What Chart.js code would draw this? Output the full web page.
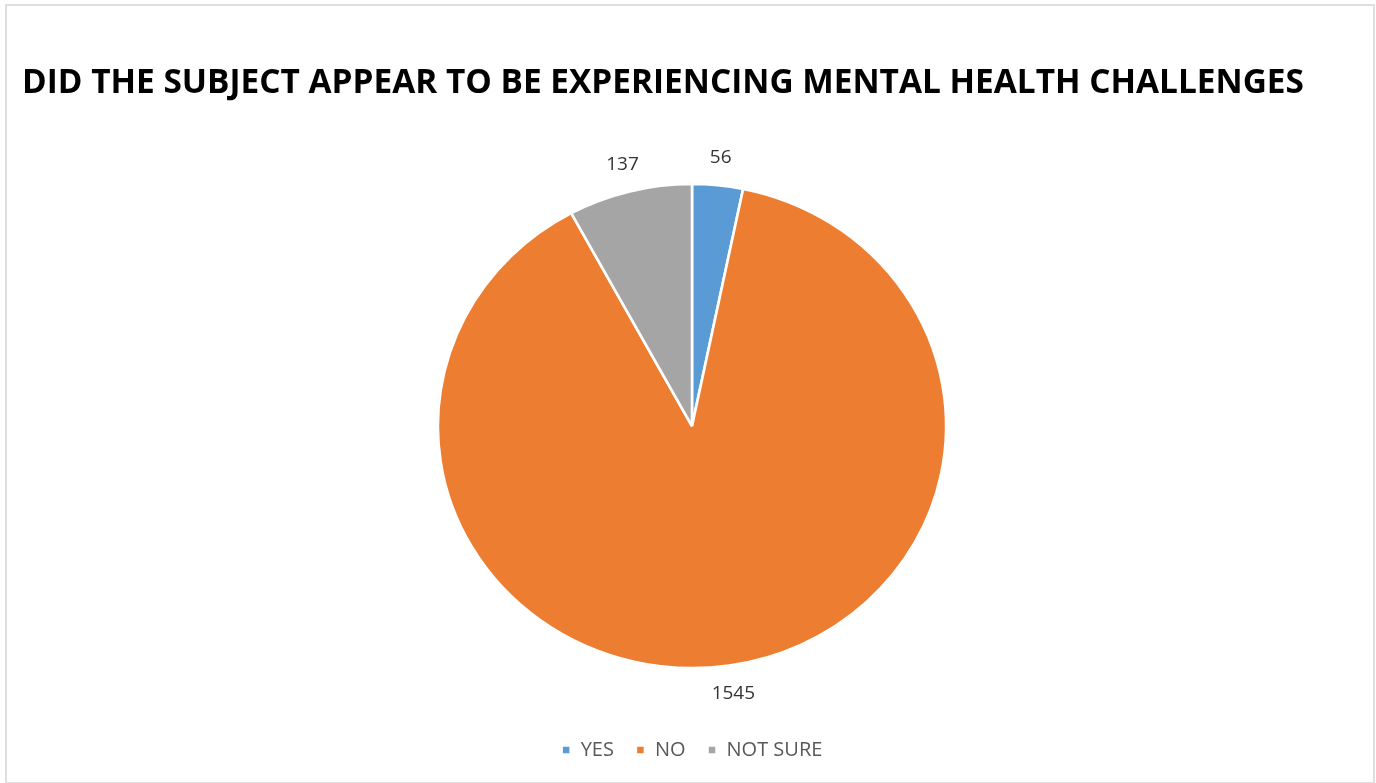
<!DOCTYPE html>
<html>
<head>
<meta charset="utf-8">
<script src="https://cdn.jsdelivr.net/npm/chart.js@4.4.1/dist/chart.umd.min.js"></script>
<style>
  html, body { margin: 0; padding: 0; background: #ffffff; }
  #wrap { position: relative; width: 1376px; height: 783px; overflow: hidden; }
  #frame { position: absolute; left: 5px; top: 4px; width: 1366px; height: 776px;
           border: 2px solid #dedede; box-sizing: content-box; pointer-events: none; }
  canvas { position: absolute; left: 0; top: 0; }
</style>
</head>
<body>
<div id="wrap">
  <canvas id="chart" width="1376" height="783"></canvas>
  <div id="frame"></div>
</div>
<script>
const titleText = 'DID THE SUBJECT APPEAR TO BE EXPERIENCING MENTAL HEALTH CHALLENGES';
const categories = ['YES', 'NO', 'NOT SURE'];
const counts = [56, 1545, 137];
const sliceColors = ['#5B9BD5', '#ED7D31', '#A5A5A5'];

// the pie is drawn slightly wider than tall
const STRETCH_X = 1.05;

const stretchPlugin = {
  id: 'stretchPie',
  beforeDatasetsDraw(chart) {
    const arc = chart.getDatasetMeta(0).data[0];
    const ctx = chart.ctx;
    ctx.save();
    ctx.translate(arc.x, arc.y);
    ctx.scale(STRETCH_X, 1);
    ctx.translate(-arc.x, -arc.y);
  },
  afterDatasetsDraw(chart) {
    chart.ctx.restore();
    // value labels just outside each slice
    const ctx = chart.ctx;
    const values = chart.data.datasets[0].data;
    ctx.save();
    ctx.font = '19px "Open Sans", sans-serif';
    ctx.fillStyle = '#333333';
    ctx.textAlign = 'center';
    ctx.textBaseline = 'middle';
    chart.getDatasetMeta(0).data.forEach((arc, i) => {
      const p = arc.getProps(['x', 'y', 'startAngle', 'endAngle', 'outerRadius'], true);
      const mid = (p.startAngle + p.endAngle) / 2;
      const r = p.outerRadius + 28;
      const x = p.x + Math.cos(mid) * r * STRETCH_X;
      const y = p.y + Math.sin(mid) * r;
      ctx.fillText(String(values[i]), x, y);
    });
    ctx.restore();
  }
};

new Chart(document.getElementById('chart'), {
  type: 'pie',
  data: {
    labels: categories,
    datasets: [{
      data: counts,
      backgroundColor: sliceColors,
      borderColor: '#ffffff',
      borderWidth: 2.5,
      radius: 242
    }]
  },
  options: {
    responsive: false,
    animation: false,
    events: [],
    layout: { padding: { left: 22, right: 14, top: 0, bottom: 13 } },
    plugins: {
      title: {
        display: true,
        text: titleText,
        align: 'start',
        color: '#000000',
        font: { family: '"Open Sans", sans-serif', size: 33.4, weight: 'bold' },
        padding: { top: 63, bottom: 31 }
      },
      legend: {
        position: 'bottom',
        labels: {
          boxWidth: 9,
          boxHeight: 9,
          color: '#595959',
          font: { family: '"Open Sans", sans-serif', size: 20 },
          padding: 22
        }
      },
      tooltip: { enabled: false }
    }
  },
  plugins: [stretchPlugin]
});
</script>
</body>
</html>
